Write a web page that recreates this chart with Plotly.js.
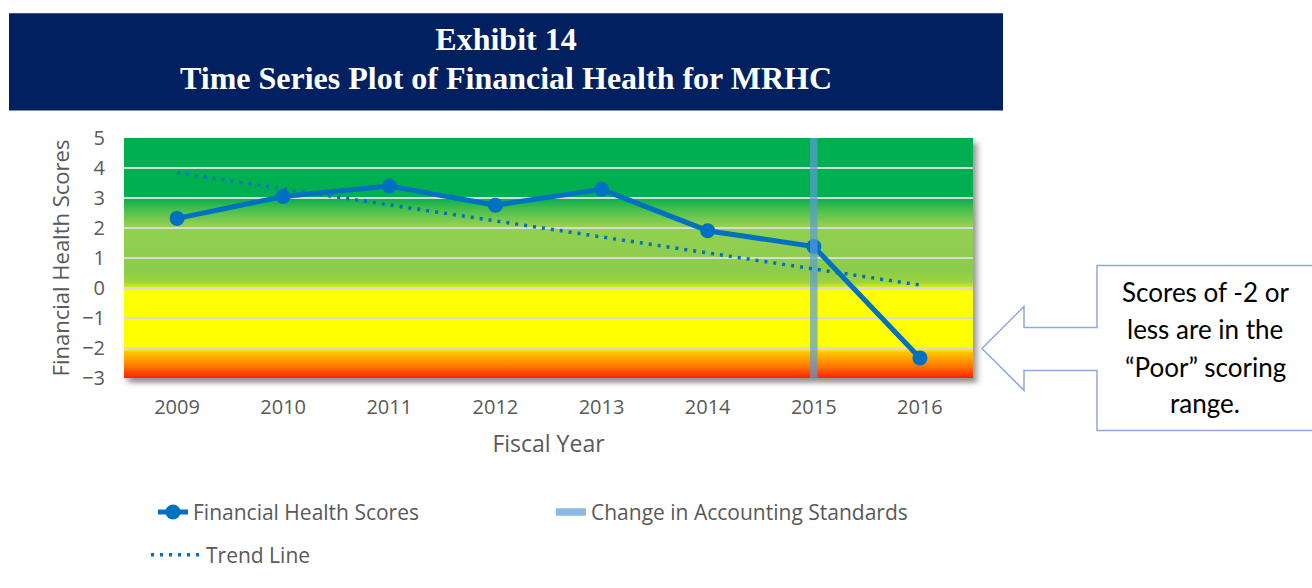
<!DOCTYPE html>
<html><head><meta charset="utf-8">
<script src="https://cdn.plot.ly/plotly-3.0.1.min.js"></script>
<style>html,body{margin:0;padding:0;background:#fff}#chart{width:1312px;height:588px}</style>
</head><body><div id="chart"></div>
<script>
// ---- data ----
const years = ['2009','2010','2011','2012','2013','2014','2015','2016'];
const scores = [2.32, 3.05, 3.40, 2.76, 3.29, 1.91, 1.38, -2.33];
const trendYears = ['2009','2016'];
const trendValues = [3.84, 0.10];
const changeYear = '2015';
const yTicks = [-3, -2, -1, 0, 1, 2, 3, 4, 5];
const titleLines = ['Exhibit 14', 'Time Series Plot of Financial Health for MRHC'];
const calloutLines = ['Scores of -2 or', 'less are in the', '\u201CPoor\u201D scoring', 'range.'];
const seriesNames = ['Financial Health Scores', 'Change in Accounting Standards', 'Trend Line'];

// ---- geometry ----
const W = 1312, H = 588, L = 124, R = 339, T = 138, B = 198;
const PW = W - L - R, PH = H - T - B;
const px = v => (v - L) / PW;
const py = v => (H - B - v) / PH;

// background gradient (value bands)
const yMin = yTicks[0], yMax = yTicks[yTicks.length - 1];
const off = v => ((yMax - v) / (yMax - yMin)).toFixed(4);
const stops = [
  [5, '#00b050'], [3.0, '#00b050'], [2.7, '#3cbb4c'], [2.1, '#92d050'],
  [0.6, '#8ccc4c'], [0.2, '#9ed23e'], [-0.1, '#ffff00'], [-2.0, '#ffff00'],
  [-2.15, '#ffc400'], [-2.6, '#ff7a00'], [-3, '#ff2000']
].map(s => `<stop offset="${off(s[0])}" stop-color="${s[1]}"/>`).join('');
const gradSvg = `<svg xmlns="http://www.w3.org/2000/svg" width="${PW}" height="${PH}" viewBox="0 0 ${PW} ${PH}" preserveAspectRatio="none"><defs><linearGradient id="g" x1="0" y1="0" x2="0" y2="1">${stops}</linearGradient></defs><rect width="${PW}" height="${PH}" fill="url(#g)"/></svg>`;
const shadowSvg = `<svg xmlns="http://www.w3.org/2000/svg" width="${PW+20}" height="${PH+20}" viewBox="0 0 ${PW+20} ${PH+20}"><defs><filter id="f" x="-10%" y="-10%" width="120%" height="120%"><feGaussianBlur stdDeviation="3"/></filter></defs><rect x="10" y="10" width="${PW}" height="${PH}" fill="#6f6f6f" fill-opacity="0.75" filter="url(#f)"/></svg>`;
const uri = s => 'data:image/svg+xml;charset=utf-8,' + encodeURIComponent(s);

const axisFont = {family: 'Open Sans', size: 20, color: '#595959'};

const traces = [
  {x: years, y: scores, type: 'scatter', mode: 'lines+markers', name: seriesNames[0],
   line: {color: '#0070c0', width: 5}, marker: {color: '#0070c0', size: 15}, legend: 'legend', hoverinfo: 'skip'},
  {x: [changeYear, changeYear], y: [yMin, yMax], type: 'scatter', mode: 'lines', name: seriesNames[1],
   line: {color: 'rgba(91,155,213,0.7)', width: 7.5}, legend: 'legend', hoverinfo: 'skip'},
  {x: trendYears, y: trendValues, type: 'scatter', mode: 'lines', name: seriesNames[2],
   line: {color: '#0070c0', width: 3.5, dash: '3px,6px'}, legend: 'legend2', hoverinfo: 'skip'}
];

// callout arrow path
const pts = [[1097,272],[1314,272],[1314,445],[1097,445],[1097,382],[1024,382],[1024,403],[982,359],[1024,315],[1024,337],[1097,337]];
const calloutPath = 'M' + pts.map(p => px(p[0]).toFixed(5) + ',' + py(p[1]).toFixed(5)).join(' L') + ' Z';
const calloutY = [300, 339, 378, 416];

const layout = {
  width: W, height: H,
  margin: {l: L, r: R, t: T, b: B},
  paper_bgcolor: '#ffffff', plot_bgcolor: 'rgba(0,0,0,0)',
  showlegend: true,
  title: {text: titleLines.map(t => '<span style="font-size:32px">' + t + '</span>').join('<br>'),
          font: {family: 'Liberation Serif', size: 30, color: '#ffffff', weight: 'bold'},
          x: px(506), xref: 'paper', xanchor: 'center', y: 1 - 50 / H, yref: 'container', yanchor: 'middle'},
  xaxis: {type: 'category', range: [-0.5, 7.5], showgrid: false, zeroline: false, showline: false, ticks: '',
          tickfont: axisFont, ticklabelstandoff: 15, fixedrange: true,
          title: {text: 'Fiscal Year', font: {family: 'Open Sans', size: 23, color: '#595959'}, standoff: 16}},
  yaxis: {range: [yMin, yMax], tickvals: yTicks, showgrid: true, gridcolor: '#d9d9d9', gridwidth: 1.5,
          zeroline: false, showline: false, ticks: '', tickfont: axisFont, ticklabelstandoff: 18, fixedrange: true,
          title: {text: 'Financial Health Scores', font: {family: 'Open Sans', size: 22, color: '#595959'}, standoff: 6}},
  legend: {orientation: 'h', x: px(153), xanchor: 'left', y: py(531), yanchor: 'middle',
           font: {family: 'Open Sans', size: 21, color: '#595959'}, bgcolor: 'rgba(0,0,0,0)',
           entrywidth: 353, itemwidth: 30, traceorder: 'normal'},
  legend2: {orientation: 'h', x: px(146), xanchor: 'left', y: py(576), yanchor: 'middle',
            font: {family: 'Open Sans', size: 21, color: '#595959'}, bgcolor: 'rgba(0,0,0,0)', itemwidth: 50},
  images: [
    {source: uri(shadowSvg), xref: 'paper', yref: 'paper', x: px(L - 6), y: py(T - 5),
     sizex: (PW + 20) / PW, sizey: (PH + 20) / PH, xanchor: 'left', yanchor: 'top', sizing: 'stretch', layer: 'below'},
    {source: uri(gradSvg), xref: 'paper', yref: 'paper', x: 0, y: 1, sizex: 1, sizey: 1,
     xanchor: 'left', yanchor: 'top', sizing: 'stretch', layer: 'below'}
  ],
  shapes: [
    {type: 'rect', xref: 'paper', yref: 'paper', x0: px(9), x1: px(1003), y0: py(109), y1: py(7),
     fillcolor: '#002060', line: {width: 0}, layer: 'above'},
    {type: 'path', xref: 'paper', yref: 'paper', path: calloutPath, fillcolor: '#ffffff',
     line: {color: '#8faadc', width: 1.5}, layer: 'above'}
  ],
  annotations: calloutLines.map((t, i) => ({
    text: t, xref: 'paper', yref: 'paper', x: px(1205), y: py(calloutY[i]), xanchor: 'center', yanchor: 'middle',
    showarrow: false, font: {family: 'Lato', size: 26, color: '#000000'}
  }))
};

Plotly.newPlot('chart', traces, layout, {displayModeBar: false, staticPlot: true});
</script>
</body></html>
